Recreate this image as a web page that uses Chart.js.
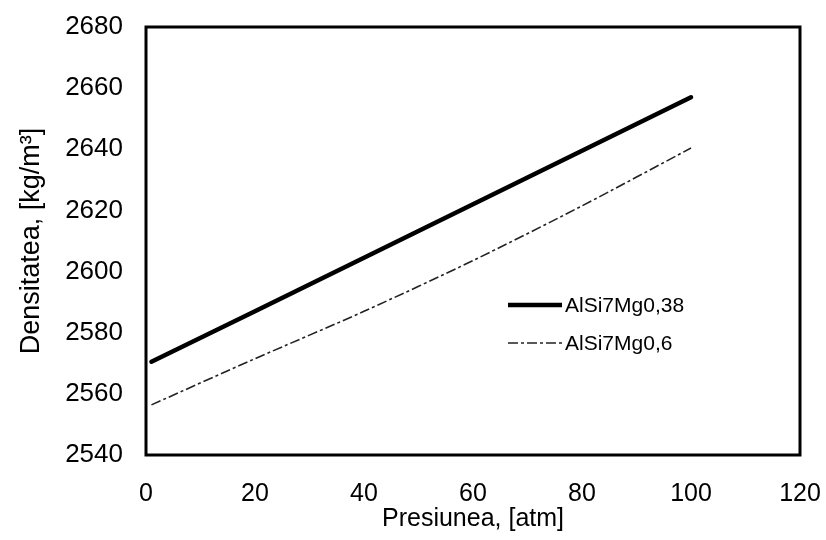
<!DOCTYPE html>
<html><head><meta charset="utf-8">
<script src="https://cdn.jsdelivr.net/npm/chart.js@4"></script>
<style>html,body{margin:0;padding:0;background:#fff}</style>
</head><body>
<canvas id="c" width="826" height="540"></canvas>
<script>
const pressure = [1, 20, 40, 60, 80, 100];
const densityMg038 = [2570.5, 2587, 2604.5, 2622, 2639.5, 2657];
const densityMg06 = [2556.4, 2571.5, 2587, 2603.6, 2621.5, 2640.4];
const seriesNames = ['AlSi7Mg0,38', 'AlSi7Mg0,6'];
const xTitle = 'Presiunea, [atm]';
const yTitle = 'Densitatea, [kg/m\u00B3]';
const xRange = [0, 120, 20];
const yRange = [2540, 2680, 20];

const FONT = '"Liberation Sans", Arial, sans-serif';

const framePlugin = {
  id: 'frame',
  afterDraw(chart) {
    const {ctx, chartArea: a} = chart;
    ctx.save();
    ctx.strokeStyle = '#000';
    ctx.lineWidth = 3;
    ctx.strokeRect(a.left, a.top, a.right - a.left, a.bottom - a.top);
    // legend
    const rows = [305, 343];
    chart.data.datasets.forEach((ds, i) => {
      const y = rows[i];
      ctx.beginPath();
      ctx.strokeStyle = ds.borderColor;
      ctx.lineWidth = ds.borderWidth;
      ctx.setLineDash(ds.borderDash || []);
      ctx.lineCap = 'butt';
      ctx.moveTo(508, y);
      ctx.lineTo(562, y);
      ctx.stroke();
      ctx.setLineDash([]);
      ctx.fillStyle = '#000';
      ctx.font = '21px ' + FONT;
      ctx.textBaseline = 'middle';
      ctx.textAlign = 'left';
      ctx.fillText(ds.label, 565, y + 1);
    });
    ctx.restore();
  }
};

new Chart(document.getElementById('c'), {
  type: 'line',
  data: {
    datasets: [
      {
        label: seriesNames[0],
        data: pressure.map((p, i) => ({x: p, y: densityMg038[i]})),
        borderColor: '#000',
        borderWidth: 4.5,
        borderCapStyle: 'round',
        pointRadius: 0,
        tension: 0.3,
        fill: false
      },
      {
        label: seriesNames[1],
        data: pressure.map((p, i) => ({x: p, y: densityMg06[i]})),
        borderColor: '#222',
        borderWidth: 1.6,
        borderDash: [10, 3, 3, 3],
        pointRadius: 0,
        tension: 0.3,
        fill: false
      }
    ]
  },
  options: {
    responsive: false,
    animation: false,
    layout: {padding: {left: 0, top: 27, right: 26, bottom: 0}},
    plugins: {legend: {display: false}, tooltip: {enabled: false}},
    scales: {
      x: {
        type: 'linear',
        min: xRange[0], max: xRange[1],
        grid: {display: false, drawTicks: false},
        border: {display: false},
        ticks: {stepSize: xRange[2], color: '#000', padding: 24, font: {family: FONT, size: 25},
                callback: v => String(v)},
        title: {display: true, text: xTitle, color: '#000', font: {family: FONT, size: 25}, padding: {top: 0, bottom: 6}},
        afterFit(s) { s.height = 85; s.paddingLeft = 0; s.paddingRight = 0; }
      },
      y: {
        type: 'linear',
        min: yRange[0], max: yRange[1],
        grid: {display: false, drawTicks: false},
        border: {display: false},
        ticks: {stepSize: yRange[2], color: '#000', padding: 23, font: {family: FONT, size: 26},
                callback: v => String(v)},
        title: {display: true, text: yTitle, color: '#000', font: {family: FONT, size: 27}, padding: {top: 15, bottom: 0}},
        afterFit(s) { s.width = 146; s.paddingTop = 0; s.paddingBottom = 0; }
      }
    }
  },
  plugins: [framePlugin]
});
</script>
</body></html>
